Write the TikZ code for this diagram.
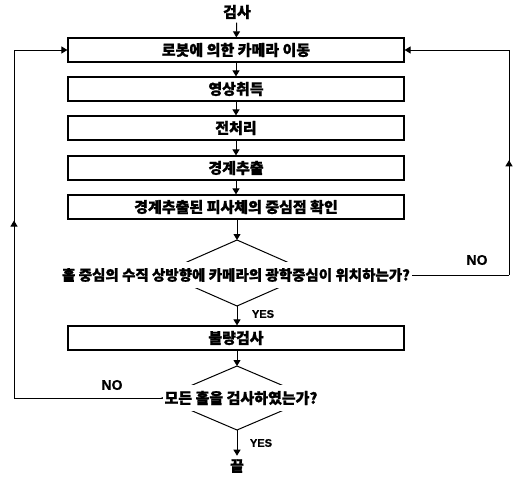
\documentclass[tikz,border=0pt]{standalone}
\usepackage{fontspec}
\setmainfont{Noto Sans CJK KR}[FakeBold=1.2]
\newfontfamily\lat{Liberation Sans}[FakeBold=0.8]
\usetikzlibrary{arrows.meta,decorations.markings}
\begin{document}
\begin{tikzpicture}[x=1pt,y=-1pt,
  font=\fontsize{15}{16}\selectfont\bfseries,
  box/.style={draw, line width=1.2pt, minimum width=336pt, minimum height=24pt, inner sep=0pt},
  arr/.style={line width=1pt, -{Triangle[length=6pt,width=7pt]}},
  ln/.style={line width=1pt},
  dtext/.style={fill=white, inner xsep=2pt, inner ysep=0pt, minimum height=26pt},
  midup/.style={postaction={decorate}, decoration={markings, mark=at position #1 with {\arrow{Triangle[length=6pt,width=7pt]}}}},
  small/.style={font=\lat\bfseries\fontsize{11}{13}\selectfont},
  lbl/.style={font=\lat\bfseries\fontsize{14}{15}\selectfont},
  wide/.style={font=\fontsize{14.5}{16}\selectfont\bfseries}
]
\useasboundingbox (0,0) rectangle (516,479);
\node (start) at (237,12) {검사};
\node[box] (b1) at (236,50) {로봇에 의한 카메라 이동};
\node[box] (b2) at (236,89) {영상취득};
\node[box] (b3) at (236,128) {전처리};
\node[box] (b4) at (236,168) {경계추출};
\node[box] (b5) at (236,207) {경계추출된 피사체의 중심점 확인};
% diamond 1
\coordinate (d1t) at (237,240);
\coordinate (d1b) at (237,306);
\coordinate (d1l) at (162,273);
\coordinate (d1r) at (312,273);
\draw[ln] (d1l) -- (d1t) -- (d1r) -- (d1b) -- cycle;
\node[dtext, wide] (d1) at (236,275) {홀 중심의 수직 상방향에 카메라의 광학중심이 위치하는가?};
\node[box] (b6) at (236,338) {불량검사};
% diamond 2
\coordinate (d2t) at (237,366);
\coordinate (d2b) at (237,430);
\coordinate (d2l) at (162,398);
\coordinate (d2r) at (312,398);
\draw[ln] (d2l) -- (d2t) -- (d2r) -- (d2b) -- cycle;
\node[dtext] (d2) at (241,398) {모든 홀을 검사하였는가?};
\node (end) at (237,466) {끝};
% connectors
\draw[arr] (start) -- (b1);
\draw[arr] (b1) -- (b2);
\draw[arr] (b2) -- (b3);
\draw[arr] (b3) -- (b4);
\draw[arr] (b4) -- (b5);
\draw[arr] (b5.south -| d1t) -- (d1t);
\draw[arr] (d1b) -- (b6.north -| d1b);
\draw[arr] (b6.south -| d2t) -- (d2t);
\draw[arr] (d2b) -- (end);
% right loop
\coordinate (rc1) at (509,275);
\coordinate (rc2) at (509,50);
\draw[ln] (d1.east) -- (rc1);
\draw[ln, midup=0.51] (rc1) -- (rc2);
\draw[arr] (rc2) -- (b1.east);
% left loop
\coordinate (lc1) at (14,398);
\coordinate (lc2) at (14,50);
\draw[ln] (d2.west) -- (lc1);
\draw[ln, midup=0.51] (lc1) -- (lc2);
\draw[arr] (lc2) -- (b1.west);
% labels
\node[lbl] (no1) at (477,260) {NO};
\node[lbl] (no2) at (112,385) {NO};
\node[small] (yes1) at (263,314) {YES};
\node[small] (yes2) at (261,443) {YES};
\end{tikzpicture}
\end{document}
